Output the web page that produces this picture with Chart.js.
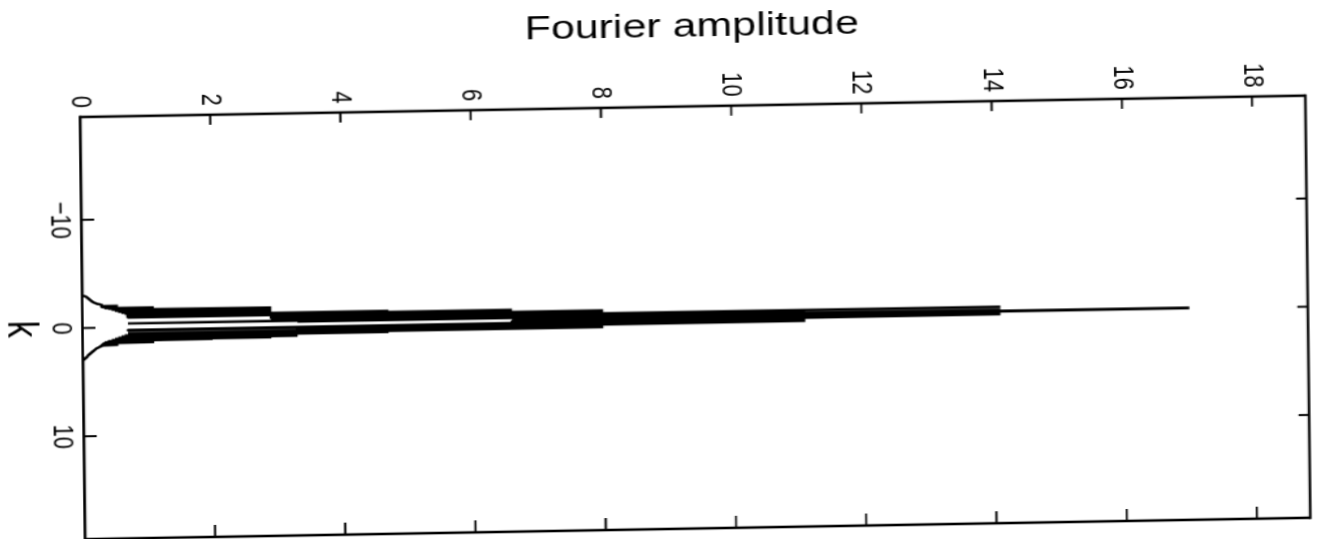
<!DOCTYPE html>
<html><head><meta charset="utf-8">
<script src="https://cdn.jsdelivr.net/npm/chart.js@4.4.0/dist/chart.umd.min.js"></script>
<style>
html,body{margin:0;padding:0;width:1322px;height:539px;overflow:hidden;background:#fff;}
#c{position:absolute;left:0;top:0;}
</style></head><body>
<canvas id="c" width="550" height="1032"></canvas>
<script>
// ---- data ----
const kTicks = [-10, 0, 10];
const ampTicks = [0, 2, 4, 6, 8, 10, 12, 14, 16, 18];
const kValues = [-19.5,
 -3.00,-2.95,-2.90,-2.85,-2.80,-2.75,-2.70,-2.65,-2.60,-2.55,-2.50,-2.45,-2.40,-2.35,-2.30,-2.25,-2.20,-2.15,-2.10,-2.05,
 -2.00,-1.95,-1.90,-1.85,-1.80,-1.75,-1.70,-1.65,-1.60,-1.55,-1.50,-1.45,-1.40,-1.35,-1.30,-1.25,-1.20,-1.15,-1.10,-1.05,
 -1.00,-0.95,-0.90,-0.85,-0.80,-0.75,-0.70,-0.65,-0.60,-0.55,-0.50,-0.45,-0.40,-0.35,-0.30,-0.25,-0.20,-0.15,-0.10,-0.05,
 0.00,0.05,0.10,0.15,0.20,0.25,0.30,0.35,0.40,0.45,0.50,0.55,0.60,0.65,0.70,0.75,0.80,0.85,0.90,0.95,
 1.00,1.05,1.10,1.15,1.20,1.25,1.30,1.35,1.40,1.45,1.50,1.55,1.60,1.65,1.70,1.75,1.80,1.85,1.90,1.95,
 2.00,2.05,2.10,2.15,2.20,2.25,2.30,2.35,2.40,2.45,2.50,2.55,2.60,2.65,2.70,2.75,2.80,2.85,2.90,2.95,
 3.00, 19.5];
const ampValues = [0,
 0,0.03,0.06,0.07,0.08,0.09,0.10,0.11,0.12,0.13,0.14,0.15,0.16,0.18,0.20,0.22,0.25,0.28,0.32,0.30,
 0.55,0.30,0.55,0.35,1.1,0.40,1.1,0.45,2.9,0.50,2.9,0.55,2.9,0.60,2.9,0.65,2.9,0.70,4.7,0.70,
 6.6,0.70,6.6,2.9,8.0,2.9,8.0,2.9,6.6,2.9,14.1,2.9,11.1,0.70,6.6,3.3,14.1,6.6,17.0,6.6,
 14.1,6.6,14.1,6.6,14.1,0.70,11.1,3.3,11.1,3.3,11.1,0.70,8.0,0.70,8.0,0.65,4.7,0.60,3.3,0.55,
 3.3,0.50,2.9,0.45,2.0,0.40,1.1,0.35,1.1,0.32,0.55,0.30,0.55,0.28,0.30,0.26,0.25,0.23,0.21,0.20,
 0.19,0.18,0.17,0.16,0.15,0.14,0.13,0.12,0.11,0.10,0.09,0.08,0.08,0.07,0.06,0.05,0.04,0.03,0.02,0.01,
 0, 0];

const FONT = "'Liberation Sans', Arial, Helvetica, sans-serif";

const frameTicks = {
  id: 'frameTicks',
  afterDraw(chart) {
    const {ctx, chartArea: a, scales: {x, y}} = chart;
    ctx.save();
    ctx.strokeStyle = '#000';
    ctx.lineCap = 'butt';
    ctx.lineWidth = 2.6;
    ctx.beginPath();
    ctx.moveTo(a.left, a.top); ctx.lineTo(a.left, a.bottom);
    ctx.moveTo(a.right, a.top); ctx.lineTo(a.right, a.bottom);
    ctx.stroke();
    ctx.lineWidth = 2.0;
    ctx.beginPath();
    ctx.moveTo(a.left - 1.3, a.bottom); ctx.lineTo(a.right + 1.3, a.bottom);
    ctx.moveTo(a.left - 1.3, a.top); ctx.lineTo(a.right + 1.3, a.top);
    ctx.stroke();
    ctx.lineWidth = 1.6;
    ctx.beginPath();
    ampTicks.forEach(v => {
      const p = y.getPixelForValue(v);
      if (p < a.top || p > a.bottom) return;
      ctx.moveTo(a.left, p); ctx.lineTo(a.left + 10, p);
      ctx.moveTo(a.right, p); ctx.lineTo(a.right - 12, p);
    });
    ctx.stroke();
    ctx.lineWidth = 2.0;
    ctx.beginPath();
    kTicks.forEach(v => {
      const p = x.getPixelForValue(v);
      ctx.moveTo(p, a.bottom); ctx.lineTo(p, a.bottom - 10);
      ctx.moveTo(p, a.top); ctx.lineTo(p, a.top + 8);
    });
    ctx.stroke();
    ctx.restore();
  }
};

const canvas = document.getElementById('c');
const chart = new Chart(canvas, {
  type: 'line',
  data: {
    datasets: [{
      data: kValues.map((k, i) => ({x: k, y: ampValues[i]})),
      borderColor: '#000',
      borderWidth: 2.4,
      borderJoinStyle: 'bevel',
      pointRadius: 0,
      tension: 0,
      fill: false
    }]
  },
  options: {
    responsive: false,
    animation: false,
    devicePixelRatio: 1,
    layout: {padding: {top: 10, right: 10, left: 0, bottom: 0}},
    plugins: {legend: {display: false}, tooltip: {enabled: false}},
    scales: {
      x: {
        type: 'linear', position: 'bottom', min: -19.5, max: 19.5,
        afterBuildTicks: s => { s.ticks = kTicks.map(v => ({value: v})); },
        afterFit: s => { s.height = 68; },
        grid: {display: false, drawTicks: false},
        border: {display: false},
        ticks: {
          color: '#000', font: {family: FONT, size: 22}, padding: 4,
          maxRotation: 0, minRotation: 0, autoSkip: false,
          callback: v => v < 0 ? '\u2212' + Math.abs(v) : String(v)
        },
        title: {display: true, text: 'k', color: '#000', font: {family: FONT, size: 34}, padding: {top: 0, bottom: 0}}
      },
      y: {
        type: 'linear', position: 'left', min: 0, max: 18.82,
        afterBuildTicks: s => { s.ticks = ampTicks.map(v => ({value: v})); },
        afterFit: s => { s.width = 117; },
        grid: {display: false, drawTicks: false},
        border: {display: false},
        ticks: {color: '#000', font: {family: FONT, size: 22}, padding: 9, autoSkip: false},
        title: {display: true, text: 'Fourier amplitude', color: '#000', font: {family: FONT, size: 33}, padding: {top: 18, bottom: 0}}
      }
    }
  },
  plugins: [frameTicks]
});

// place the drawn chart the way the page shows it (turned a quarter turn, slightly skewed)
const ca = chart.chartArea;
canvas.style.left = (79.5 - ca.left) + 'px';
canvas.style.top = (116.7 - ca.bottom) + 'px';
canvas.style.transformOrigin = ca.left + 'px ' + ca.bottom + 'px';
canvas.style.transform = 'matrix(0.0118, 0.998, -1.3011, 0.02275, 0, 0)';
</script>
</body></html>
